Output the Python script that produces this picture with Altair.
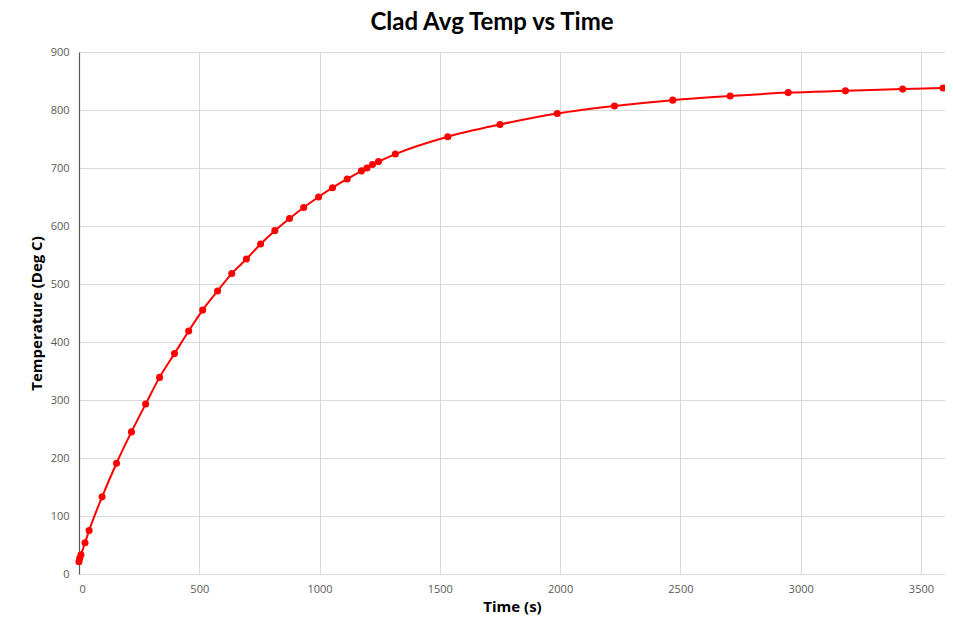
import altair as alt
import pandas as pd

time_s = [0, 3, 8, 25, 42, 96, 156, 218, 277, 335, 397, 456, 514, 576, 635, 696,
          755, 814, 875, 934, 996, 1054, 1115, 1174, 1197, 1220, 1245, 1315, 1533,
          1750, 1988, 2226, 2468, 2707, 2948, 3186, 3424, 3592]
temp_c = [21, 27, 33, 54, 75, 133, 191, 245, 293, 339, 380, 419, 455, 488, 518, 543,
          569, 592, 613, 632, 650, 666, 681, 695, 700, 706, 711, 724, 754,
          775, 794, 807, 817, 824, 830, 833, 836, 838]
x_ticks = [0, 500, 1000, 1500, 2000, 2500, 3000, 3500]
y_ticks = [0, 100, 200, 300, 400, 500, 600, 700, 800, 900]

df = pd.DataFrame({"t": time_s, "T": temp_c})

x_enc = alt.X("t:Q", scale=alt.Scale(domain=[0, 3600], nice=False, zero=True),
              axis=alt.Axis(values=x_ticks, title="Time (s)", format="d",
                            domainColor="#D9D9D9", labelPadding=9, titlePadding=5))
y_enc = alt.Y("T:Q", scale=alt.Scale(domain=[0, 900], nice=False),
              axis=alt.Axis(values=y_ticks, title="Temperature (Deg C)",
                            domainColor="#595959", domainWidth=1.2,
                            labelPadding=10, titlePadding=6))

line = alt.Chart(df).mark_line(color="#FF0000", strokeWidth=2, interpolate="monotone").encode(
    x=x_enc, y=y_enc)
pts = alt.Chart(df).mark_circle(color="#FF0000", opacity=1, size=50).encode(
    x="t:Q", y="T:Q")

chart = alt.layer(line, pts).properties(
    width=866, height=522,
    padding={"left": 71, "top": 44, "right": 0, "bottom": 43},
    autosize=alt.AutoSizeParams(type="none"),
    title=alt.TitleParams("Clad Avg Temp vs Time", anchor="middle", frame="group",
                          font="Lato", fontSize=24, fontWeight="bold", color="#000000",
                          offset=11, dx=-20),
).configure_view(stroke=None).configure_axis(
    gridColor="#D9D9D9", gridWidth=1, ticks=False,
    labelFont="Open Sans", labelFontSize=11, labelColor="#595959",
    titleFont="Open Sans", titleFontSize=15, titleFontWeight="bold", titleColor="#000000",
)

chart.save("out.html", embed_options={"renderer": "svg", "actions": False})
